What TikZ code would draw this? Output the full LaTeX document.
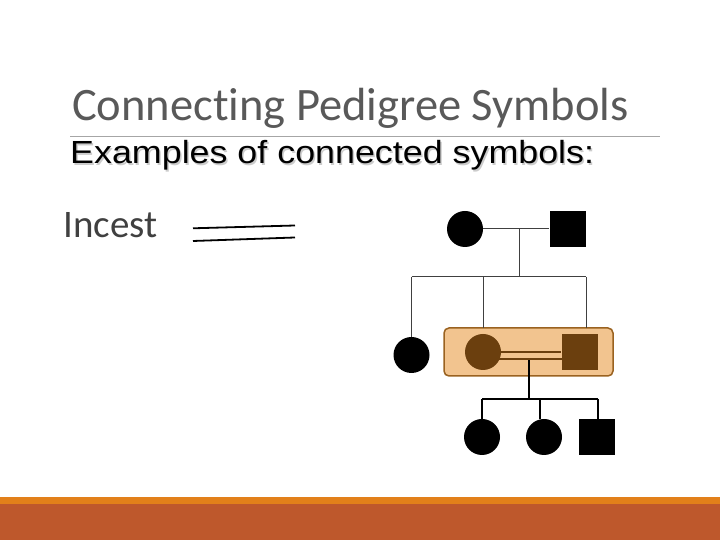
\documentclass[tikz,border=0pt]{standalone}
\usepackage{fontspec}
\setmainfont[Ligatures={NoCommon}]{Carlito}
\newfontfamily\arialfont{Liberation Sans}
\usetikzlibrary{calc}

\definecolor{titlegray}{HTML}{595959}
\definecolor{textgray}{HTML}{404040}
\definecolor{rulegray}{HTML}{A6A6A6}
\definecolor{boxfill}{HTML}{F2C48F}
\definecolor{boxedge}{HTML}{9A6220}
\definecolor{affbrown}{HTML}{6B3F0E}
\definecolor{bandorange}{HTML}{E2801A}
\definecolor{bandrust}{HTML}{BE582C}

\begin{document}
\begin{tikzpicture}[x=1pt,y=1pt]
  \tikzset{
    female/.style={
      circle,
      fill=black,
      inner sep=0pt,
      minimum size=36pt
    },
    male/.style={
      rectangle,
      fill=black,
      inner sep=0pt,
      minimum size=36pt
    },
    subtitle/.style={
      anchor=base west,
      inner sep=0pt,
      xscale=1.12,
      font=\arialfont\fontsize{32}{32}\selectfont
    },
    thinline/.style={draw=textgray, line width=1pt},
    thickline/.style={draw=black, line width=2pt},
    mateline/.style={draw=affbrown, line width=2pt}
  }

  \useasboundingbox (0,0) rectangle (720,540);

  % footer bands
  \fill[bandrust] (0,0) rectangle (720,36);
  \fill[bandorange] (0,36) rectangle (720,43);

  % headings
  \node[anchor=base west, inner sep=0pt, text=titlegray,
        font=\fontsize{46.5}{46.5}\selectfont] (title) at (72,419) {Connecting Pedigree Symbols};
  \draw[rulegray, line width=0.8pt] (70,404) -- (660,404);
  \node[subtitle, text=black!20] (exshadow) at (71.5,374.5) {Examples of connected symbols:};
  \node[subtitle, text=black] (examples) at (70,376) {Examples of connected symbols:};
  \node[anchor=base west, inner sep=0pt, text=textgray,
        font=\fontsize{39}{39}\selectfont] (incest) at (63,302) {Incest};

  % incest symbol
  \draw[line width=1.8pt] (193,311.7) -- (295,314.5);
  \draw[line width=1.8pt] (193,299) -- (295,302.5);

  % consanguineous couple box
  \draw[boxedge, fill=boxfill, line width=1.5pt, rounded corners=5pt]
    (444,164) rectangle (613,212);
  \coordinate (boxtop) at (0,212);

  % generation I
  \node[female] (gm) at (465,311) {};
  \node[male] (gf) at (567.5,311) {};

  % generation II
  \node[female] (aunt) at (411.5,185) {};
  \node[female, fill=affbrown] (mother) at (483,188) {};
  \node[male, fill=affbrown] (father) at (579.5,188) {};

  % generation III
  \node[female] (kid1) at (482,103) {};
  \node[female] (kid2) at (544,103) {};
  \node[male] (kid3) at (597,103) {};

  \coordinate (mate1) at (519,311);
  \coordinate (sib1) at (519,263);
  \coordinate (mate2) at (529,180);
  \coordinate (sib2) at (529,141);

  \draw[thinline] (gm) -- (gf);
  \draw[thinline] (mate1) -- (sib1);
  \draw[thinline] (sib1 -| aunt) -- (sib1 -| 586,0);
  \draw[thinline] (sib1 -| aunt) -- (aunt);
  \draw[thinline] (sib1 -| mother) -- (mother |- boxtop);
  \draw[thinline] (sib1 -| 586,0) -- (boxtop -| 586,0);

  \draw[thickline] (mate2) -- (sib2);
  \draw[mateline] (mother) -- (father);
  \draw[mateline] ([shift={(-2,-7)}]mother.east) -- ([shift={(2,-7)}]father.west);

  \draw[thickline] (sib2 -| kid1) -- (sib2 -| 598,0);
  \draw[thickline] (sib2 -| kid1) -- (kid1);
  \draw[thickline] (sib2 -| 540,0) -- (kid2.north -| 540,0);
  \draw[thickline] (sib2 -| 598,0) -- (kid3.north -| 598,0);
\end{tikzpicture}
\end{document}
